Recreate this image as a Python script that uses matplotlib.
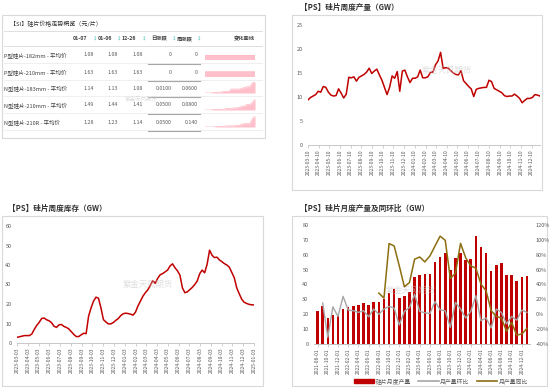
import matplotlib
matplotlib.use("Agg")
import matplotlib.pyplot as plt
import numpy as np
import pandas as pd
from matplotlib.patches import Rectangle, Patch
from matplotlib.lines import Line2D
from matplotlib.ticker import FuncFormatter

plt.rcParams['font.family'] = ['Noto Sans CJK SC', 'DejaVu Sans']

# ---- table data (硅片价格) ----
row_names = ["P型硅片-182mm - 平均价", "P型硅片-210mm - 平均价", "N型硅片-183mm - 平均价",
             "N型硅片-210mm - 平均价", "N型硅片-210R - 平均价"]
col_dates = ["01-07", "01-06", "12-26"]
price_0107 = ["1.08", "1.63", "1.14", "1.49", "1.28"]
price_0106 = ["1.08", "1.63", "1.13", "1.44", "1.23"]
price_1226 = ["1.08", "1.63", "1.08", "1.41", "1.14"]
day_chg = ["0", "0", "0.0100", "0.0500", "0.0500"]
week_chg = ["0", "0", "0.0600", "0.0800", "0.140"]
spark_p182 = [1.08] * 20
spark_p210 = [1.63] * 20
spark_n183 = [1.00, 1.00, 1.00, 1.005, 1.01, 1.01, 1.01, 1.02, 1.02, 1.02,
              1.05, 1.05, 1.05, 1.05, 1.06, 1.07, 1.08, 1.08, 1.13, 1.14]
spark_n210 = [1.33, 1.33, 1.33, 1.335, 1.34, 1.34, 1.34, 1.34, 1.35, 1.35,
              1.35, 1.36, 1.36, 1.37, 1.38, 1.39, 1.41, 1.41, 1.44, 1.49]
spark_n210r = [1.08, 1.08, 1.08, 1.08, 1.085, 1.09, 1.09, 1.09, 1.10, 1.10,
               1.10, 1.10, 1.11, 1.11, 1.13, 1.14, 1.14, 1.14, 1.23, 1.28]

# ---- weekly production (GW) ----
prod = [9.4, 9.9, 10.2, 10.5, 11.2, 11.0, 12.2, 12.0, 11.0, 10.4,
        10.2, 10.3, 11.7, 10.8, 9.8, 10.6, 14.1, 14.0, 14.2, 13.3,
        14.1, 14.4, 14.7, 15.2, 16.0, 14.9, 15.4, 15.8, 14.6, 13.5,
        12.0, 10.5, 12.0, 14.4, 13.9, 15.3, 11.2, 15.4, 15.6, 14.2,
        13.0, 13.9, 13.9, 14.2, 15.6, 14.0, 14.0, 14.2, 15.1, 15.2,
        16.7, 17.5, 19.3, 16.0, 16.1, 16.0, 15.5, 15.0, 14.7, 14.6,
        15.5, 13.4, 12.8, 12.2, 11.7, 10.1, 11.6, 11.8, 11.9, 12.0,
        12.0, 13.5, 13.2, 11.8, 11.5, 11.2, 10.9, 10.3, 10.1, 10.2,
        10.2, 10.6, 10.2, 9.7, 8.8, 9.3, 9.7, 9.7, 9.9, 10.5,
        10.4, 10.2]

# ---- weekly inventory (GW) ----
inv = [2.9, 3.2, 3.5, 3.8, 3.8, 3.8, 4.6, 7.0, 9.0, 10.6,
       12.6, 12.8, 11.9, 11.4, 10.4, 8.6, 8.0, 9.3, 9.5, 8.5,
       8.0, 7.2, 5.8, 4.4, 3.3, 3.3, 4.2, 5.0, 4.8, 13.8,
       18.0, 21.5, 23.5, 23.0, 18.0, 12.0, 10.8, 9.8, 9.8, 10.5,
       11.6, 12.5, 14.0, 15.0, 15.3, 15.1, 14.8, 14.3, 15.8, 19.0,
       21.5, 24.0, 25.8, 27.3, 29.5, 32.0, 30.6, 33.2, 35.0, 35.6,
       36.5, 37.4, 39.5, 40.6, 38.6, 37.0, 34.8, 28.3, 25.8, 26.2,
       27.4, 28.5, 30.0, 31.8, 35.5, 37.4, 36.0, 40.3, 47.6, 45.0,
       43.8, 44.0, 42.6, 41.7, 40.7, 40.0, 38.9, 36.2, 33.5, 28.3,
       25.3, 22.5, 20.9, 20.3, 19.8, 19.6, 19.5]

# ---- monthly production (GW), MoM and YoY ----
months = pd.date_range("2021-08-01", "2025-01-01", freq="MS").strftime("%Y-%m-%d").tolist()
monthly = [22.0, 25.5, 17.5, 19.5, 18.5, 23.3, 24.7, 25.8, 26.0, 27.3,
           26.3, 28.5, 28.3, 30.0, 34.2, 37.2, 31.0, 32.0, 35.2, 45.0,
           46.5, 46.8, 47.0, 55.0, 58.2, 61.3, 50.0, 57.5, 61.0, 56.3,
           57.3, 72.3, 65.5, 61.3, 49.3, 53.0, 54.2, 46.5, 46.2, 42.2,
           44.8, 46.0]
mom = [15, -31, 10, -3, 24, 5.6, 4.7, 2.5, 4.7, -3.4,
       7, 0, 7, 10.5, 8.3, -14.5, 3.8, 9.2, 27, 3.8,
       2, 1, 17, 6, 4.7, -17.7, 15.9, 7, -5, 3.8,
       25, -8.7, -5, -18.5, 7, 2.5, -13, -3, -8, 5.6,
       2.5]
yoy = [28.4, 21.7, 95, 91.8, 65, 36.9, 42.7, 74, 77, 70.4,
       78.4, 91.8, 105, 99.4, 48, 55.2, 95.3, 76, 65, 62,
       40.4, 31.5, 4.7, -3, -5, -23, -11, -28, -26.6, -19]

W, H = 550, 388
RED = "#c00000"
GRID = "#d9d9d9"
TXT = "#595959"


def rect(l, t, r, b):
    return [l / W, 1 - b / H, (r - l) / W, (b - t) / H]


fig = plt.figure(figsize=(5.5, 3.88), dpi=100)

# overlay in pixel coordinates for frames, titles and the table
bg = fig.add_axes([0, 0, 1, 1])
bg.set_xlim(0, W)
bg.set_ylim(H, 0)
bg.axis("off")

for (l, t, r, b) in [(2, 15, 265, 138), (292, 15, 542, 190), (2, 216, 263, 386), (292, 216, 547, 386)]:
    bg.add_patch(Rectangle((l, t), r - l, b - t, fill=False, ec=GRID, lw=0.8))

title_kw = dict(fontsize=5.5, color="#333333", fontweight="bold", va="center")
bg.text(300, 7, "【PS】硅片周度产量（GW）", **title_kw)
bg.text(8, 208, "【PS】硅片周度库存（GW）", **title_kw)
bg.text(300, 208, "【PS】硅片月度产量及同环比（GW）", **title_kw)

# ---- table ----
bg.text(10, 24, "【SI】硅片价格走势概览（元/片）", fontsize=4.3, color="#333333", va="center")
bg.plot([4, 262], [31, 31], color=GRID, lw=0.6)
bg.plot([4, 262], [46, 46], color=GRID, lw=0.6)
hdr_kw = dict(fontsize=3.8, color="#404040", fontweight="bold", va="center", ha="right")
hdr_x = [87, 112, 136, 167, 193]
icon_x = [95, 119, 144, 174, 199]
col_x = [94, 118, 143, 172, 198]
headers = col_dates + ["日涨跌", "周涨跌"]
for hx, ix, h in zip(hdr_x, icon_x, headers):
    bg.text(hx, 39, h, **hdr_kw)
    bg.text(ix, 39.5, "↕", fontsize=3.2, color="#2bb5a8", va="center", ha="center")
bg.text(255, 39, "变化曲线", **hdr_kw)

row_y = [55, 72, 88, 105, 122]
cols = [price_0107, price_0106, price_1226, day_chg, week_chg]
sparks = [spark_p182, spark_p210, spark_n183, spark_n210, spark_n210r]
for i, y in enumerate(row_y):
    bg.text(4, y, row_names[i], fontsize=4, color="#404040", va="center")
    for x, c in zip(col_x, cols):
        bg.text(x, y, c[i], fontsize=3.8, color=TXT, va="center", ha="right")
    bg.plot([4, 262], [y + 8, y + 8], color="#ececec", lw=0.6)
    bg.plot([148, 200], [y + 8.5, y + 8.5], color="#a6a6a6", lw=0.8)
    s = sparks[i]
    sax = fig.add_axes(rect(205, y - 6, 255, y + 5))
    xs = np.arange(len(s))
    lo, hi = min(s), max(s)
    if hi == lo:
        lo, hi = lo - 1, hi + 1
    sax.fill_between(xs, lo, s, color="#ffc0cb", lw=0)
    sax.plot(xs, s, color="#ffb6c1", lw=0.5)
    sax.set_xlim(0, len(s) - 1)
    sax.set_ylim(lo, hi)
    sax.axis("off")

bg.text(125, 99, "紫金天风期货", fontsize=4, color="#d0d0d0", alpha=0.7, va="center")

# ---- weekly production ----
ax1 = fig.add_axes(rect(308, 25, 540, 145))
d1 = pd.date_range("2023-03-10", "2025-01-03", periods=len(prod))
ax1.plot(d1, prod, color=RED, lw=1.1)
ax1.set_ylim(0, 25)
ax1.set_yticks(range(0, 26, 5))
ax1.set_xlim(d1[0], d1[-1])
t1 = pd.date_range("2023-03-01", "2024-12-01", freq="MS") + pd.Timedelta(days=9)
ax1.set_xticks(t1)
ax1.set_xticklabels(t1.strftime("%Y-%m-%d"), rotation=90)
ax1.text(0.6, 0.62, "紫金天风期货", transform=ax1.transAxes, fontsize=6, color="#c8c8c8",
         alpha=0.6, ha="center", va="center")

# ---- weekly inventory ----
ax2 = fig.add_axes(rect(17, 226, 254, 343))
d2 = pd.date_range("2023-03-03", "2025-01-03", periods=len(inv))
ax2.plot(d2, inv, color=RED, lw=1.1)
ax2.set_ylim(0, 60)
ax2.set_yticks(range(0, 61, 10))
ax2.set_xlim(d2[0], d2[-1])
t2 = pd.date_range("2023-03-01", "2025-01-01", freq="MS") + pd.Timedelta(days=2)
ax2.set_xticks(t2)
ax2.set_xticklabels(t2.strftime("%Y-%m-%d"), rotation=90)
ax2.text(0.55, 0.5, "紫金天风期货", transform=ax2.transAxes, fontsize=6, color="#c8c8c8",
         alpha=0.6, ha="center", va="center")

# ---- monthly production ----
ax3 = fig.add_axes(rect(314, 225, 530, 344))
x = np.arange(len(monthly))
ax3.bar(x, monthly, width=0.5, color=RED, zorder=2)
ax3.set_ylim(0, 80)
ax3.set_yticks(range(0, 81, 10))
ax3.set_xlim(-0.7, len(monthly) - 0.4)
ax3.set_xticks(x[::2])
ax3.set_xticklabels(months[::2], rotation=90)
ax3b = ax3.twinx()
ax3b.plot(x[1:], [v / 100 for v in mom], color="#a6a6a6", lw=1.0, zorder=3)
ax3b.plot(x[12:], [v / 100 for v in yoy], color="#8c6d0f", lw=1.1, zorder=3)
ax3b.set_ylim(-0.4, 1.2)
ax3b.set_yticks(np.arange(-0.4, 1.21, 0.2))
ax3b.yaxis.set_major_formatter(FuncFormatter(lambda v, p: f"{v * 100:.0f}%"))
ax3.text(0.45, 0.45, "紫金天风期货", transform=ax3.transAxes, fontsize=6, color="#c8c8c8",
         alpha=0.6, ha="center", va="center", zorder=5)

for ax in (ax1, ax2, ax3, ax3b):
    for s in ("top", "right", "left"):
        ax.spines[s].set_visible(False)
    ax.spines["bottom"].set_color("#bfbfbf")
    ax.spines["bottom"].set_linewidth(0.6)
    ax.tick_params(axis="y", length=0, labelsize=4, labelcolor=TXT, pad=4)
    ax.tick_params(axis="x", length=2, width=0.5, color="#bfbfbf", labelsize=3.6,
                   labelcolor=TXT, pad=1)
    ax.patch.set_alpha(0)

handles = [Patch(color=RED), Line2D([], [], color="#a6a6a6", lw=1.2),
           Line2D([], [], color="#8c6d0f", lw=1.2)]
fig.legend(handles, ["硅片月度产量", "月产量环比", "月产量同比"], loc="center",
           bbox_to_anchor=(441 / W, 1 - 381 / H), ncol=3, frameon=False, fontsize=4.2,
           handlelength=3.5, handleheight=0.8, columnspacing=1.2, handletextpad=0.3,
           labelcolor=TXT)

fig.savefig("out.png", dpi=100)
